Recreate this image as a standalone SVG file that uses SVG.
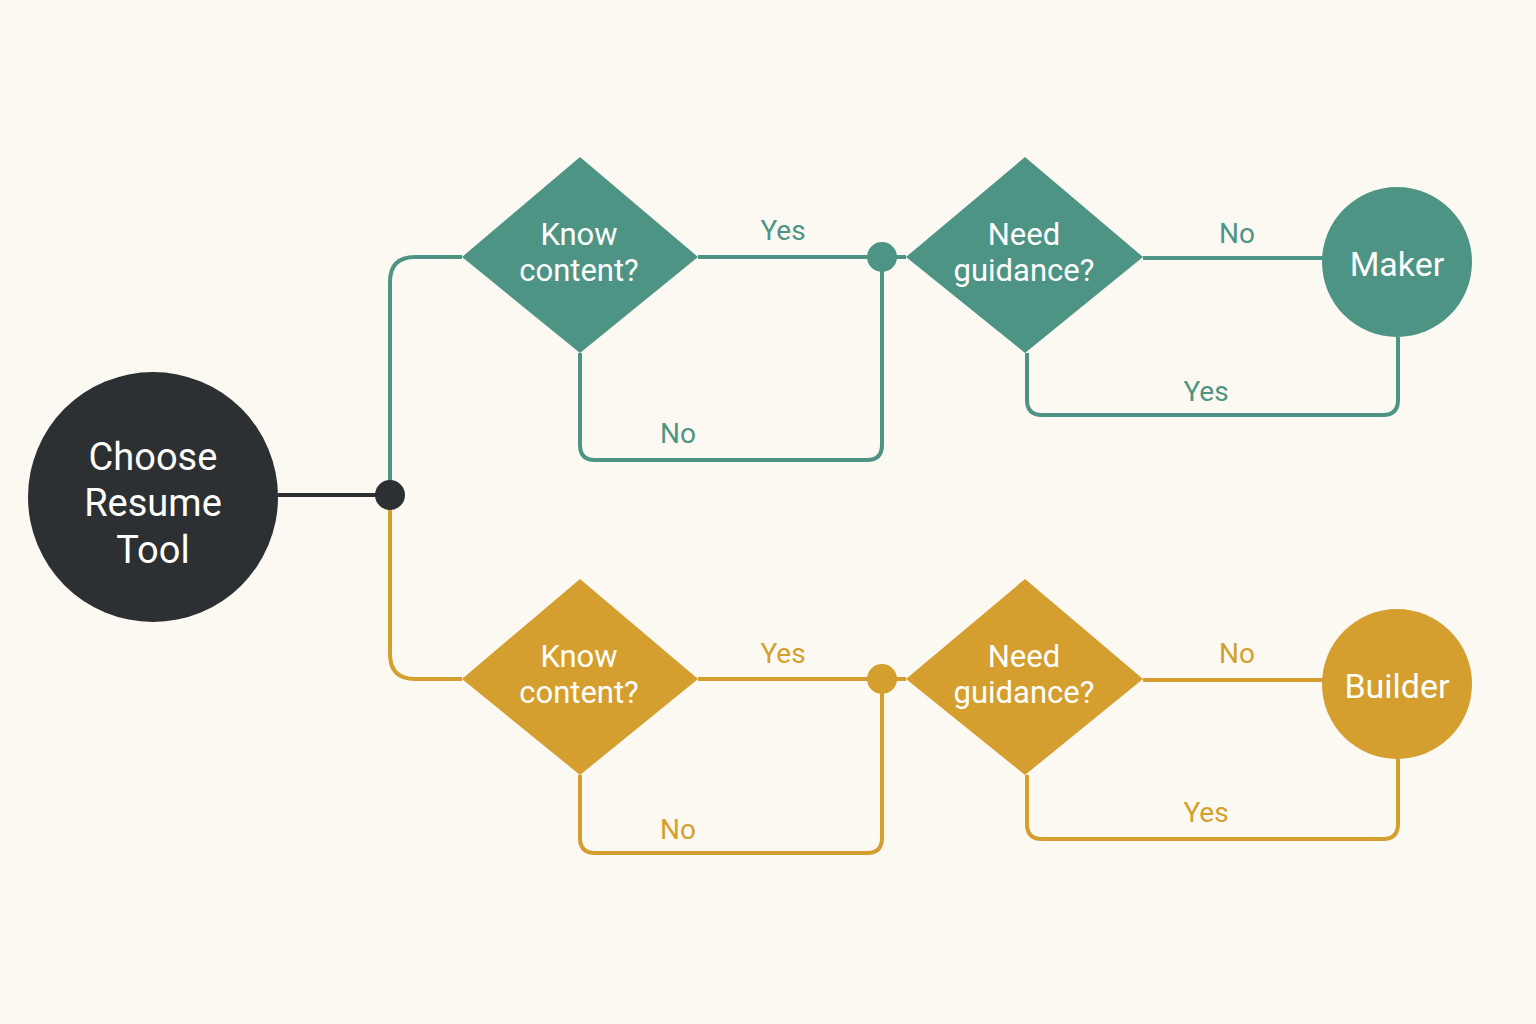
<svg xmlns="http://www.w3.org/2000/svg" width="1536" height="1024" viewBox="0 0 1536 1024">
<style>
.t{stroke:#4e9485}.g{stroke:#d49f2e}
.ln{fill:none;stroke-width:4;stroke-linejoin:round}
.nt{font-family:Roboto,"Liberation Sans",sans-serif;fill:#fff;text-anchor:middle;font-size:31px}
.lb{font-family:Roboto,"Liberation Sans",sans-serif;text-anchor:middle;font-size:28px}
</style>
<rect width="1536" height="1024" fill="#fcf9f3"/>
<g id="connectors">
<path class="ln" stroke="#2d3032" d="M278 495H390"/>
<path class="ln t" d="M390 495V282Q390 257 415 257H462M698 257H906M1143 258H1323M1027 353V400Q1027 415 1042 415H1383Q1398 415 1398 400V337M580 353V445Q580 460 595 460H867Q882 460 882 445V257"/>
<path class="ln g" d="M390 495V654Q390 679 415 679H462M698 679H906M1143 680H1323M1027 775V824Q1027 839 1042 839H1383Q1398 839 1398 824V759M580 775V838Q580 853 595 853H867Q882 853 882 838V679"/>
<circle cx="390" cy="495" r="15" fill="#2d3032"/>
<circle cx="882" cy="257" r="15" fill="#4e9485"/>
<circle cx="882" cy="679" r="15" fill="#d49f2e"/>
<g class="lb" fill="#4e9485"><text x="783" y="240">Yes</text><text x="1237" y="243">No</text><text x="1206" y="401">Yes</text><text x="678" y="443">No</text></g>
<g class="lb" fill="#d49f2e"><text x="783" y="663">Yes</text><text x="1237" y="663">No</text><text x="1206" y="822">Yes</text><text x="678" y="839">No</text></g>
</g>
<g id="start"><circle cx="153" cy="497" r="125" fill="#2d3032"/><text class="nt" font-size="38" x="153" y="470" style="font-size:38px">Choose</text><text class="nt" x="153" y="516" style="font-size:38px">Resume</text><text class="nt" x="153" y="563" style="font-size:38px">Tool</text></g>
<g id="d1"><polygon points="580,157 698,257 580,353 462,257" fill="#4e9485"/><text class="nt" x="579" y="245">Know</text><text class="nt" x="579" y="281">content?</text></g>
<g id="d2"><polygon points="1025,157 1143,257 1025,353 906,257" fill="#4e9485"/><text class="nt" x="1024" y="245">Need</text><text class="nt" x="1024" y="281">guidance?</text></g>
<g id="maker"><circle cx="1397" cy="262" r="75" fill="#4e9485"/><text class="nt" x="1397" y="276" style="font-size:34px">Maker</text></g>
<g id="d3"><polygon points="580,579 698,679 580,775 462,679" fill="#d49f2e"/><text class="nt" x="579" y="667">Know</text><text class="nt" x="579" y="703">content?</text></g>
<g id="d4"><polygon points="1025,579 1143,679 1025,775 906,679" fill="#d49f2e"/><text class="nt" x="1024" y="667">Need</text><text class="nt" x="1024" y="703">guidance?</text></g>
<g id="builder"><circle cx="1397" cy="684" r="75" fill="#d49f2e"/><text class="nt" x="1397" y="698" style="font-size:34px">Builder</text></g>
</svg>
